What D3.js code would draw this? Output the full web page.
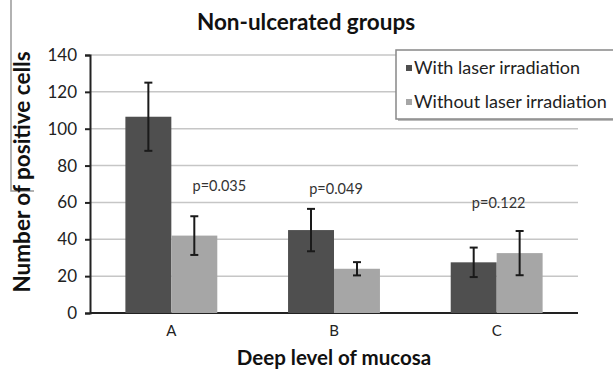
<!DOCTYPE html>
<html>
<head>
<meta charset="utf-8">
<script src="https://cdn.jsdelivr.net/npm/d3@7"></script>
<style>
  body { margin: 0; background: #fff; }
  text { font-family: Lato, "Open Sans", sans-serif; }
</style>
</head>
<body>
<svg width="613" height="371"></svg>
<script>
// chart values
const categories = ['A', 'B', 'C'];
const seriesNames = ['With laser irradiation', 'Without laser irradiation'];
const withLaser = [106.5, 45, 27.5];
const withLaserErr = [18.5, 11.5, 8];
const withoutLaser = [42, 24, 32.5];
const withoutLaserErr = [10.5, 3.6, 12];
const pValues = ['p=0.035', 'p=0.049', 'p=0.122'];
const pLabelAt = [66, 64.5, 57];   // value level where each p label sits
const yTicks = [0, 20, 40, 60, 80, 100, 120, 140];

const colors = ['#4f4f4f', '#a6a6a6'];

const svg = d3.select('svg');
const width = +svg.attr('width');
const height = +svg.attr('height');

const margin = { top: 55, right: 35, bottom: 58, left: 90 };
const innerWidth = width - margin.left - margin.right;
const innerHeight = height - margin.top - margin.bottom;

const rows = categories.map((c, i) => ({
  cat: c,
  vals: [
    { s: 0, v: withLaser[i], e: withLaserErr[i] },
    { s: 1, v: withoutLaser[i], e: withoutLaserErr[i] }
  ]
}));

const x0 = d3.scaleBand().domain(categories).range([0, innerWidth]).padding(0);
const x1 = d3.scaleBand().domain([0, 1]).range([0, x0.bandwidth()]).paddingOuter(0.77).paddingInner(0);
const y = d3.scaleLinear().domain([0, 140]).range([innerHeight, 0]);

// stray frame line from the scanned figure
svg.append('path').attr('d', 'M11,0V191H34').attr('fill', 'none')
  .attr('stroke', '#999').attr('stroke-width', 1.5);

const g = svg.append('g').attr('transform', `translate(${margin.left},${margin.top})`);

// gridlines
g.append('g').selectAll('line').data(yTicks.filter(t => t > 0)).enter().append('line')
  .attr('x1', 0).attr('x2', innerWidth)
  .attr('y1', d => y(d)).attr('y2', d => y(d))
  .attr('stroke', '#c6c6c6').attr('stroke-width', 1.5);

// baseline
g.append('line')
  .attr('x1', 0).attr('x2', innerWidth)
  .attr('y1', y(0)).attr('y2', y(0))
  .attr('stroke', '#222').attr('stroke-width', 2);

// y axis
const yAxis = d3.axisLeft(y).tickValues(yTicks).tickSize(5).tickPadding(8);
const ya = g.append('g').call(yAxis);
ya.select('.domain').attr('stroke', '#222').attr('stroke-width', 2);
ya.selectAll('.tick line').attr('stroke', '#222').attr('stroke-width', 2);
ya.selectAll('.tick text').attr('font-size', 17).attr('fill', '#222');

// bars
const grp = g.selectAll('.grp').data(rows).enter().append('g')
  .attr('transform', d => `translate(${x0(d.cat)},0)`);

grp.selectAll('rect').data(d => d.vals).enter().append('rect')
  .attr('x', d => x1(d.s))
  .attr('width', x1.bandwidth())
  .attr('y', d => y(d.v))
  .attr('height', d => y(0) - y(d.v))
  .attr('fill', d => colors[d.s]);

// error bars
const eb = grp.selectAll('.err').data(d => d.vals).enter().append('g')
  .attr('transform', d => `translate(${x1(d.s) + x1.bandwidth() / 2},0)`)
  .attr('stroke', '#1a1a1a').attr('stroke-width', 2);
eb.append('line').attr('y1', d => y(d.v + d.e)).attr('y2', d => y(d.v - d.e));
eb.append('line').attr('x1', -4).attr('x2', 4).attr('y1', d => y(d.v + d.e)).attr('y2', d => y(d.v + d.e));
eb.append('line').attr('x1', -4).attr('x2', 4).attr('y1', d => y(d.v - d.e)).attr('y2', d => y(d.v - d.e));

// p values
g.selectAll('.pval').data(pValues).enter().append('text')
  .attr('x', (d, i) => x0(categories[i]) + x0.bandwidth() / 2 + (i === 0 ? 48 : 2))
  .attr('y', (d, i) => y(pLabelAt[i]))
  .attr('text-anchor', 'middle')
  .attr('font-size', 14.5).attr('fill', '#333')
  .text(d => d);

// category labels
g.selectAll('.cat').data(categories).enter().append('text')
  .attr('x', d => x0(d) + x0.bandwidth() / 2)
  .attr('y', innerHeight + 23)
  .attr('text-anchor', 'middle')
  .attr('font-size', 15).attr('fill', '#222')
  .text(d => d);

// legend
const lg = svg.append('g').attr('transform', 'translate(396,50)');
lg.append('rect').attr('x', 2).attr('y', 2).attr('width', 240).attr('height', 69).attr('fill', '#bbb');
lg.append('rect').attr('width', 240).attr('height', 69).attr('fill', '#fff').attr('stroke', '#888').attr('stroke-width', 1.5);
const li = lg.selectAll('.li').data(seriesNames).enter().append('g')
  .attr('transform', (d, i) => `translate(10,${18 + i * 34})`);
li.append('rect').attr('y', -3).attr('width', 6).attr('height', 6).attr('fill', (d, i) => colors[i]);
li.append('text').attr('x', 8).attr('y', 6).attr('font-size', 18).attr('fill', '#222').text(d => d);

// titles
svg.append('text').attr('x', 306).attr('y', 30).attr('text-anchor', 'middle')
  .attr('font-size', 22.5).attr('font-weight', 'bold').attr('fill', '#111')
  .text('Non-ulcerated groups');

svg.append('text').attr('x', margin.left + innerWidth / 2).attr('y', 365).attr('text-anchor', 'middle')
  .attr('font-size', 20.5).attr('font-weight', 'bold').attr('fill', '#111')
  .text('Deep level of mucosa');

svg.append('text').attr('transform', 'translate(30,172) rotate(-90)').attr('text-anchor', 'middle')
  .attr('font-size', 22.5).attr('font-weight', 'bold').attr('fill', '#111')
  .text('Number of positive cells');
</script>
</body>
</html>
